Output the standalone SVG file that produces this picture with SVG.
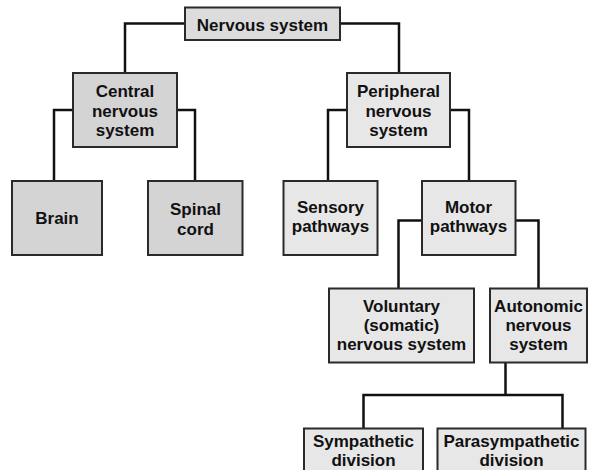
<svg xmlns="http://www.w3.org/2000/svg" width="589" height="470" viewBox="0 0 589 470">
<style>
.box{stroke:#2a2a2a;stroke-width:2}
.dark{fill:#d4d4d4}
.mid{fill:#dcdcdc}
.light{fill:#e7e7e7}
.t{font-family:"Liberation Sans",Arial,sans-serif;font-weight:bold;font-size:17px;fill:#111;text-anchor:middle}
.c{fill:none;stroke:#111;stroke-width:2.5}
</style>
<rect width="589" height="470" fill="#fff"/>
<g id="connectors">
<polyline class="c" points="185,23.5 125,23.5 125,73"/>
<polyline class="c" points="340,23.5 399,23.5 399,73"/>
<polyline class="c" points="73,110 54,110 54,181"/>
<polyline class="c" points="177,110 195,110 195,181"/>
<polyline class="c" points="347,110 328,110 328,181"/>
<polyline class="c" points="450,110 469,110 469,181"/>
<polyline class="c" points="422,220.5 398.5,220.5 398.5,288"/>
<polyline class="c" points="515,220.5 538.5,220.5 538.5,288"/>
<line class="c" x1="505.5" y1="363" x2="505.5" y2="395"/>
<polyline class="c" points="363.5,428 363.5,395 562.5,395 562.5,428"/>
</g>
<g id="nervous-system">
<rect class="box mid" x="185" y="7.5" width="155" height="32.5"/>
<text class="t" x="262.5" y="30.5" font-size="18">Nervous system</text>
</g>
<g id="central">
<rect class="box dark" x="73" y="73" width="104" height="74"/>
<text class="t" x="125" y="97.3">Central<tspan x="125" dy="19.2">nervous</tspan><tspan x="125" dy="19.2">system</tspan></text>
</g>
<g id="peripheral">
<rect class="box light" x="347" y="73" width="103" height="74"/>
<text class="t" x="398.5" y="97.3">Peripheral<tspan x="398.5" dy="19.2">nervous</tspan><tspan x="398.5" dy="19.2">system</tspan></text>
</g>
<g id="brain">
<rect class="box dark" x="12" y="181" width="90" height="74"/>
<text class="t" x="57" y="224" font-size="18">Brain</text>
</g>
<g id="spinal-cord">
<rect class="box dark" x="148" y="181" width="94.5" height="74"/>
<text class="t" x="195.5" y="215.4">Spinal<tspan x="195.5" dy="19.2">cord</tspan></text>
</g>
<g id="sensory">
<rect class="box light" x="283.5" y="181" width="94" height="74"/>
<text class="t" x="330.5" y="213.2">Sensory<tspan x="330.5" dy="19.2">pathways</tspan></text>
</g>
<g id="motor">
<rect class="box light" x="422" y="181" width="93.5" height="74"/>
<text class="t" x="468.5" y="213.2">Motor<tspan x="468.5" dy="19.2">pathways</tspan></text>
</g>
<g id="voluntary">
<rect class="box light" x="329" y="288.5" width="145" height="74"/>
<text class="t" x="401.5" y="312">Voluntary<tspan x="401.5" dy="19.2">(somatic)</tspan><tspan x="401.5" dy="19.2">nervous system</tspan></text>
</g>
<g id="autonomic">
<rect class="box light" x="490" y="288.5" width="97" height="74"/>
<text class="t" x="538.5" y="312">Autonomic<tspan x="538.5" dy="19.2">nervous</tspan><tspan x="538.5" dy="19.2">system</tspan></text>
</g>
<g id="sympathetic">
<rect class="box light" x="304" y="428.5" width="119" height="60"/>
<text class="t" x="363.5" y="446.5">Sympathetic<tspan x="363.5" dy="19.2">division</tspan></text>
</g>
<g id="parasympathetic">
<rect class="box light" x="437.5" y="428.5" width="148" height="60"/>
<text class="t" x="511.5" y="446.5">Parasympathetic<tspan x="511.5" dy="19.2">division</tspan></text>
</g>
</svg>
